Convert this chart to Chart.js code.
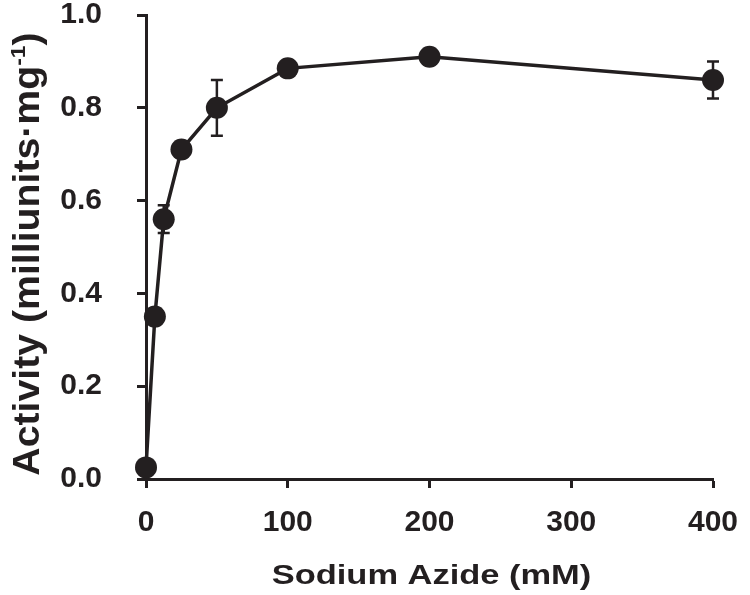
<!DOCTYPE html>
<html>
<head>
<meta charset="utf-8">
<script src="https://cdn.jsdelivr.net/npm/chart.js@4.4.0/dist/chart.umd.min.js"></script>
<style>
  html, body { margin: 0; padding: 0; background: #ffffff; }
  #wrap { width: 750px; height: 595px; position: relative; }
</style>
</head>
<body>
<div id="wrap"><canvas id="c" width="750" height="595"></canvas></div>
<script>
// ---- data ----
const azide = [0, 6.25, 12.5, 25, 50, 100, 200, 400];           // mM
const activity = [0.025, 0.35, 0.56, 0.71, 0.80, 0.885, 0.91, 0.86];
const activityErr = [0.005, 0.01, 0.03, 0.01, 0.06, 0.015, 0.015, 0.04];
const xTicks = [0, 100, 200, 300, 400];
const yTicks = [0.0, 0.2, 0.4, 0.6, 0.8, 1.0];
const xTitle = 'Sodium Azide (mM)';
const yTitleMain = 'Activity (milliunits\u00B7mg';
const yTitleSup = '-1';
const yTitleEnd = ')';

const INK = '#231f20';
const FONT = '"Liberation Sans", Arial, Helvetica, sans-serif';

const errorBars = {
  id: 'errorBars',
  beforeDatasetsDraw(chart) {
    const ctx = chart.ctx, xs = chart.scales.x, ys = chart.scales.y;
    ctx.save();
    ctx.strokeStyle = INK;
    ctx.lineWidth = 2.5;
    const half = 6;
    azide.forEach((xv, i) => {
      const px = xs.getPixelForValue(xv);
      const top = ys.getPixelForValue(activity[i] + activityErr[i]);
      const bot = ys.getPixelForValue(activity[i] - activityErr[i]);
      ctx.beginPath();
      ctx.moveTo(px, top); ctx.lineTo(px, bot);
      ctx.moveTo(px - half, top); ctx.lineTo(px + half, top);
      ctx.moveTo(px - half, bot); ctx.lineTo(px + half, bot);
      ctx.stroke();
    });
    ctx.restore();
  }
};

const axisTitles = {
  id: 'axisTitles',
  afterDraw(chart) {
    const ctx = chart.ctx, area = chart.chartArea;
    ctx.save();
    ctx.fillStyle = INK;
    // x title (horizontally stretched like the reference lettering)
    ctx.font = 'bold 28px ' + FONT;
    ctx.textBaseline = 'alphabetic';
    ctx.textAlign = 'left';
    const sx = 1.23;
    const wx = ctx.measureText(xTitle).width * sx;
    ctx.save();
    ctx.translate((area.left + area.right) / 2 + 2 - wx / 2, 584);
    ctx.scale(sx, 1);
    ctx.fillText(xTitle, 0, 0);
    ctx.restore();

    // y title, rotated, with superscript
    const big = 'bold 36px ' + FONT, small = 'bold 21px ' + FONT;
    const sy = 1.09;
    ctx.font = big;
    const w1 = ctx.measureText(yTitleMain).width;
    const w3 = ctx.measureText(yTitleEnd).width;
    ctx.font = small;
    const w2 = ctx.measureText(yTitleSup).width;
    const total = (w1 + w2 + w3) * sy;
    ctx.save();
    ctx.translate(39, 254);
    ctx.rotate(-Math.PI / 2);
    ctx.translate(-total / 2, 0);
    ctx.scale(sy, 1);
    ctx.font = big;
    ctx.fillText(yTitleMain, 0, 0);
    ctx.font = small;
    ctx.fillText(yTitleSup, w1, -14);
    ctx.font = big;
    ctx.fillText(yTitleEnd, w1 + w2, 0);
    ctx.restore();
    ctx.restore();
  }
};

new Chart(document.getElementById('c'), {
  type: 'scatter',
  data: {
    datasets: [{
      data: azide.map((x, i) => ({ x: x, y: activity[i] })),
      showLine: true,
      borderColor: INK,
      borderWidth: 3.5,
      backgroundColor: INK,
      pointBackgroundColor: INK,
      pointBorderColor: INK,
      pointBorderWidth: 0,
      pointRadius: 11,
      pointHoverRadius: 11,
      tension: 0,
      clip: false
    }]
  },
  options: {
    responsive: false,
    animation: false,
    devicePixelRatio: 1,
    layout: { padding: { left: 0, top: 15, right: 37, bottom: 0 } },
    plugins: { legend: { display: false }, tooltip: { enabled: false } },
    scales: {
      x: {
        type: 'linear',
        min: 0, max: 400,
        afterBuildTicks(s) { s.ticks = xTicks.map(v => ({ value: v })); },
        afterFit(s) { s.height = 116; s.paddingLeft = 0; s.paddingRight = 0; },
        border: { display: true, width: 3, color: INK },
        grid: { display: true, drawOnChartArea: false, drawTicks: true, tickLength: 9, tickWidth: 3, tickColor: INK },
        ticks: {
          color: INK, padding: 20, maxRotation: 0,
          font: { family: FONT, size: 30, weight: 'bold', lineHeight: 1 },
          callback: v => String(v)
        }
      },
      y: {
        type: 'linear',
        min: 0, max: 1,
        afterBuildTicks(s) { s.ticks = yTicks.map(v => ({ value: v })); },
        afterFit(s) { s.width = 146; s.paddingTop = 0; s.paddingBottom = 0; },
        border: { display: true, width: 3, color: INK },
        grid: { display: true, drawOnChartArea: false, drawTicks: true, tickLength: 9, tickWidth: 3, tickColor: INK },
        ticks: {
          color: INK, padding: 35,
          font: { family: FONT, size: 30, weight: 'bold', lineHeight: 1 },
          callback: v => Number(v).toFixed(1)
        }
      }
    }
  },
  plugins: [errorBars, axisTitles]
});
</script>
</body>
</html>
